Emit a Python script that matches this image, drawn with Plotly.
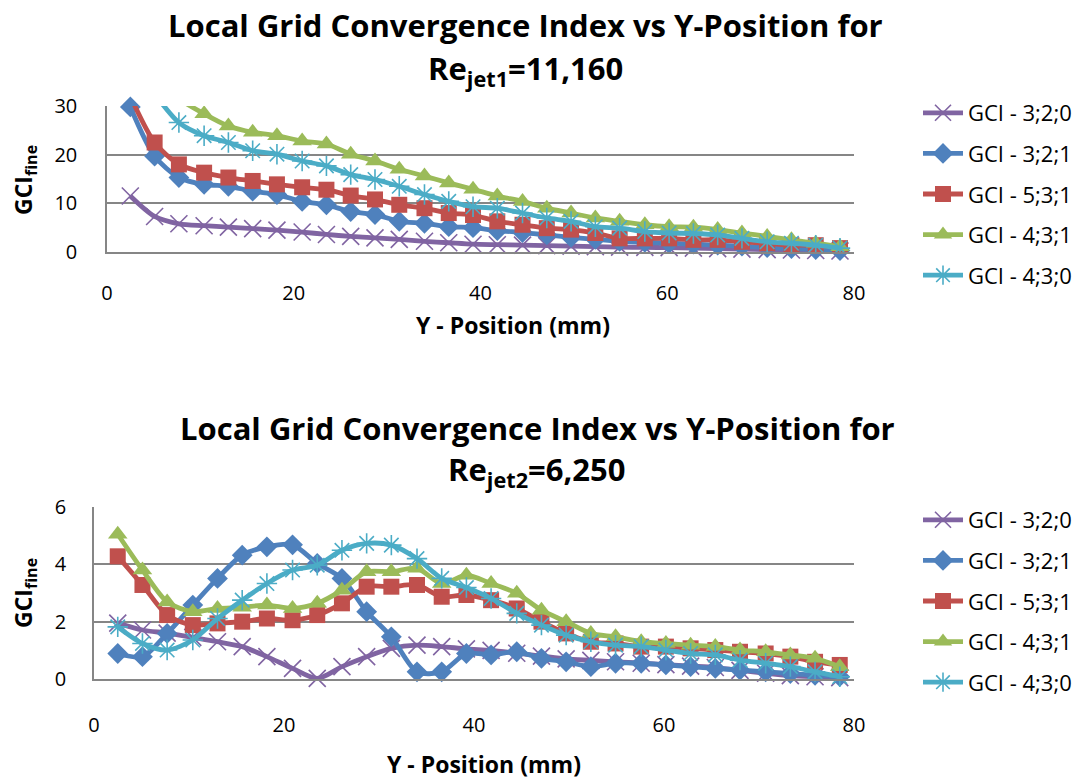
import plotly.graph_objects as go

# ---------------- data ----------------
x_mm = [2.5, 5.1, 7.7, 10.4, 13.0, 15.6, 18.2, 20.9, 23.5, 26.1, 28.7, 31.3, 34.0, 36.6, 39.2,
        41.8, 44.5, 47.1, 49.7, 52.3, 54.9, 57.6, 60.2, 62.8, 65.4, 68.0, 70.7, 73.3, 75.9, 78.5]

series_names = ["GCI - 3;2;0", "GCI - 3;2;1", "GCI - 5;3;1", "GCI - 4;3;1", "GCI - 4;3;0"]

# Re_jet1 = 11,160
top_320 = [11.5, 7.3, 5.8, 5.4, 5.1, 4.8, 4.5, 4.1, 3.6, 3.2, 2.9, 2.6, 2.2, 1.9, 1.6,
           1.5, 1.4, 1.3, 1.2, 1.1, 1.0, 0.95, 0.9, 0.8, 0.7, 0.6, 0.5, 0.4, 0.3, 0.2]
top_321 = [29.8, 19.7, 15.3, 13.9, 13.5, 12.5, 11.8, 10.4, 9.7, 8.3, 7.7, 6.3, 5.9, 5.2, 5.0,
           4.4, 4.0, 3.5, 3.0, 2.6, 2.2, 2.0, 1.8, 1.6, 1.4, 1.2, 0.9, 0.7, 0.5, 0.3]
top_531 = [32.0, 22.5, 18.0, 16.3, 15.3, 14.6, 13.9, 13.3, 12.8, 11.6, 10.8, 9.7, 9.0, 8.0, 7.6,
           6.3, 5.6, 4.9, 4.6, 3.9, 2.8, 2.8, 2.8, 2.5, 2.5, 2.1, 1.8, 1.4, 1.4, 0.8]
top_431 = [42.0, 36.0, 31.5, 28.4, 25.9, 24.6, 23.9, 22.8, 22.2, 20.1, 18.7, 17.0, 15.6, 14.2, 12.9,
           11.5, 10.4, 9.0, 8.0, 7.0, 6.3, 5.6, 5.2, 5.1, 4.6, 3.9, 3.2, 2.5, 1.8, 1.1]
top_430 = [40.0, 32.5, 26.6, 23.9, 22.5, 20.8, 20.1, 18.7, 17.7, 15.9, 14.9, 13.5, 11.8, 10.4, 9.3,
           9.0, 8.0, 7.0, 6.3, 5.2, 4.9, 4.2, 3.9, 3.8, 3.5, 2.8, 2.1, 1.8, 1.4, 0.8]

# Re_jet2 = 6,250
bot_320 = [1.95, 1.71, 1.6, 1.45, 1.3, 1.13, 0.78, 0.37, 0.02, 0.43, 0.78, 1.07, 1.18, 1.13, 1.05,
           1.0, 0.9, 0.8, 0.7, 0.65, 0.6, 0.55, 0.5, 0.45, 0.4, 0.3, 0.2, 0.12, 0.08, 0.05]
bot_321 = [0.89, 0.78, 1.59, 2.58, 3.51, 4.32, 4.61, 4.68, 4.03, 3.51, 2.35, 1.47, 0.25, 0.25, 0.89,
           0.84, 0.95, 0.72, 0.60, 0.43, 0.55, 0.55, 0.49, 0.43, 0.37, 0.31, 0.25, 0.19, 0.13, 0.08]
bot_531 = [4.28, 3.28, 2.23, 1.88, 1.94, 2.0, 2.11, 2.05, 2.23, 2.64, 3.22, 3.22, 3.28, 2.87, 2.93,
           2.75, 2.46, 2.0, 1.59, 1.30, 1.24, 1.13, 1.13, 1.07, 1.01, 0.95, 0.89, 0.78, 0.60, 0.49]
bot_431 = [5.05, 3.80, 2.69, 2.35, 2.46, 2.5, 2.58, 2.46, 2.64, 3.1, 3.74, 3.74, 3.86, 3.33, 3.62,
           3.33, 2.99, 2.40, 2.0, 1.59, 1.47, 1.30, 1.24, 1.18, 1.13, 1.01, 0.95, 0.84, 0.72, 0.43]
bot_430 = [1.82, 1.24, 1.01, 1.36, 2.11, 2.75, 3.33, 3.80, 3.97, 4.49, 4.73, 4.67, 4.2, 3.51, 3.19,
           2.81, 2.29, 1.88, 1.53, 1.30, 1.18, 1.13, 1.01, 0.89, 0.84, 0.66, 0.55, 0.43, 0.25, 0.08]

top_series = [top_320, top_321, top_531, top_431, top_430]
bot_series = [bot_320, bot_321, bot_531, bot_431, bot_430]

# ---------------- styles ----------------
colors = ["#8064A2", "#4F81BD", "#C0504D", "#9BBB59", "#4BACC6"]
symbols = ["x-thin-open", "diamond", "square", "triangle-up", "asterisk-open"]
sizes = [17, 16, 16, 17, 17]
clip_top = [False, False, True, True, True]

FONT = "Open Sans"
W, H = 1086, 780

fig = go.Figure()

def add(series, xa, ya, legend, clips):
    for i, ys in enumerate(series):
        c = colors[i]
        open_sym = symbols[i].endswith("open")
        fig.add_trace(go.Scatter(
            x=x_mm, y=ys, name=series_names[i], mode="lines+markers",
            xaxis=xa, yaxis=ya, legend=legend, legendgroup=legend + str(i),
            line=dict(color=c, width=4.8, shape="spline", smoothing=0.8),
            marker=dict(symbol=symbols[i], size=sizes[i], color=c,
                        line=dict(color=c, width=1.6 if open_sym else 0)),
            cliponaxis=clips[i],
        ))

add(top_series, "x", "y", "legend", clip_top)
add(bot_series, "x2", "y2", "legend2", [False] * 5)

grid = "#868686"
tickfont = dict(family=FONT, size=20, color="black")
axis_common = dict(showline=True, linecolor=grid, linewidth=1.5, automargin=False,
                   zeroline=False, ticks="", tickfont=tickfont)

def xd(a, b):
    return [a / W, b / W]

def yd(top, bottom):
    return [1 - bottom / H, 1 - top / H]

legend_font = dict(family=FONT, size=22, color="black")

fig.update_layout(
    width=W, height=H, margin=dict(l=0, r=0, t=0, b=0, pad=0, autoexpand=False),
    paper_bgcolor="white", plot_bgcolor="white",
    showlegend=True,
    xaxis=dict(domain=xd(107, 854), range=[0, 80], dtick=20, anchor="y", showgrid=False,
               ticklabelstandoff=22, **axis_common),
    yaxis=dict(domain=yd(106, 252), range=[0, 30], dtick=10, anchor="x",
               showgrid=True, gridcolor=grid, gridwidth=1.5,
               ticklabelstandoff=24, **axis_common),
    xaxis2=dict(domain=xd(94, 854), range=[0, 80], dtick=20, anchor="y2", showgrid=False,
                ticklabelstandoff=27, **axis_common),
    yaxis2=dict(domain=yd(507, 679), range=[0, 6], dtick=2, anchor="x2",
                showgrid=True, gridcolor=grid, gridwidth=1.5,
                ticklabelstandoff=22, **axis_common),
    legend=dict(x=918 / W, xanchor="left", y=1 - 92 / H, yanchor="top",
                font=legend_font, tracegroupgap=9, itemwidth=40,
                bgcolor="rgba(0,0,0,0)"),
    legend2=dict(x=918 / W, xanchor="left", y=1 - 499 / H, yanchor="top",
                 font=legend_font, tracegroupgap=9, itemwidth=40,
                 bgcolor="rgba(0,0,0,0)"),
)

title_font = dict(family=FONT, size=31, color="black", weight="bold")
axis_title_font = dict(family=FONT, size=23, color="black", weight="bold")

annots = [
    dict(text="Local Grid Convergence Index vs Y-Position for", x=525, y=25, font=title_font),
    dict(text="Re<sub>jet1</sub>=11,160", x=525, y=70, font=title_font),
    dict(text="Local Grid Convergence Index vs Y-Position for", x=537, y=428, font=title_font),
    dict(text="Re<sub>jet2</sub>=6,250", x=537, y=471, font=title_font),
    dict(text="Y - Position (mm)", x=513, y=325, font=axis_title_font),
    dict(text="Y - Position (mm)", x=484, y=764, font=axis_title_font),
    dict(text="GCI<sub>fine</sub>", x=24, y=180, font=axis_title_font, textangle=-90),
    dict(text="GCI<sub>fine</sub>", x=24, y=593, font=axis_title_font, textangle=-90),
]
for a in annots:
    fig.add_annotation(text=a["text"], x=a["x"] / W, y=1 - a["y"] / H, xref="paper", yref="paper",
                       xanchor="center", yanchor="middle", showarrow=False, font=a["font"],
                       textangle=a.get("textangle", 0))

fig.write_html("out.html")
